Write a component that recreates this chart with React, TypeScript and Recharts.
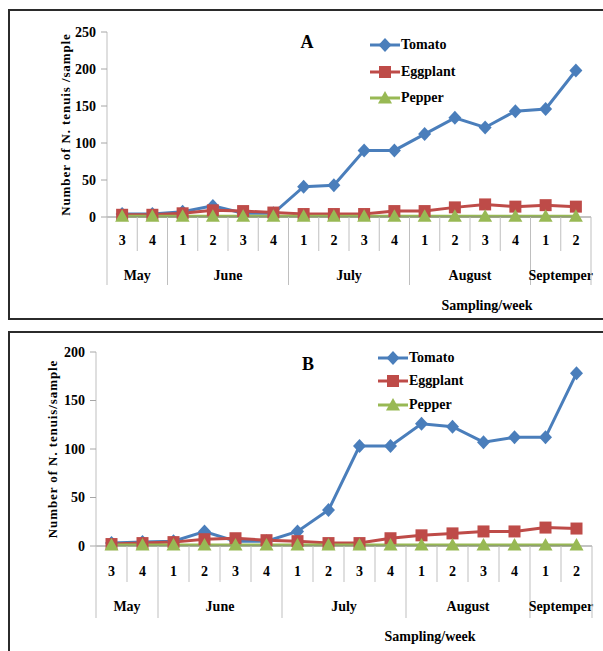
import { LineChart, Line, XAxis, YAxis, Legend, Label } from 'recharts'

const months = ['May', 'June', 'July', 'August', 'Septemper']
const weeksInMonth = [2, 4, 4, 4, 2]
const weeks = ['3', '4', '1', '2', '3', '4', '1', '2', '3', '4', '1', '2', '3', '4', '1', '2']

const tomatoA = [4, 4, 7, 15, 5, 5, 41, 43, 90, 90, 112, 134, 121, 143, 146, 198]
const eggplantA = [3, 3, 5, 9, 8, 6, 4, 4, 4, 8, 8, 13, 17, 14, 16, 14]
const pepperA = [1, 1, 1, 1, 1, 1, 1, 1, 1, 1, 1, 1, 1, 1, 1, 1]

const tomatoB = [3, 4, 5, 15, 5, 5, 15, 37, 103, 103, 126, 123, 107, 112, 112, 178]
const eggplantB = [2, 3, 4, 7, 8, 6, 5, 3, 3, 8, 11, 13, 15, 15, 19, 18]
const pepperB = [1, 1, 1, 1, 1, 1, 1, 1, 1, 1, 1, 1, 1, 1, 1, 1]

const yTicksA = [0, 50, 100, 150, 200, 250]
const yTicksB = [0, 50, 100, 150, 200]

const FONT = "'Liberation Serif', 'Times New Roman', serif"
const BLUE = '#4a7ebb'
const RED = '#be4b48'
const GREEN = '#98b954'
const GRID = '#bfbfbf'

// series order as drawn (and as listed in the legend)
const seriesOrder = ['tomato', 'eggplant', 'pepper']

// which month each week belongs to, and where each month starts
const monthOf: number[] = []
const monthStart: number[] = []
weeksInMonth.forEach((n, m) => {
  monthStart.push(monthOf.length)
  for (let k = 0; k < n; k++) monthOf.push(m)
})

function makeRows(tomato: number[], eggplant: number[], pepper: number[]) {
  return weeks.map((w, i) => ({
    slot: `${months[monthOf[i]]} ${w}`,
    tomato: tomato[i],
    eggplant: eggplant[i],
    pepper: pepper[i],
  }))
}

const shapes: Record<string, string> = {
  tomato: 'diamond',
  eggplant: 'square',
  pepper: 'triangle',
}

function Marker({ cx, cy, shape, color }: { cx: number; cy: number; shape: string; color: string }) {
  if (shape === 'diamond') {
    return <path d={`M${cx},${cy - 7}L${cx + 6.5},${cy}L${cx},${cy + 7}L${cx - 6.5},${cy}Z`} fill={color} />
  }
  if (shape === 'square') {
    return <rect x={cx - 6} y={cy - 6} width={12} height={12} fill={color} />
  }
  return <path d={`M${cx},${cy - 7}L${cx + 7},${cy + 5.5}L${cx - 7},${cy + 5.5}Z`} fill={color} />
}

const dotFor = (shape: string, color: string) => (p: any) => (
  <Marker key={`${shape}-${p.index}`} cx={p.cx} cy={p.cy} shape={shape} color={color} />
)

type Geo = { weekBase: number; weekDiv: number; monthBase: number; monthDiv: number }

function SlotTick(props: any) {
  const { x, y, index, band, geo } = props as { x: number; y: number; index: number; band: number; geo: Geo }
  const m = monthOf[index]
  const first = monthStart[m] === index
  const left = x - band / 2
  const right = x + band / 2
  const txt = { fontFamily: FONT, fontWeight: 'bold' as const, fontSize: 14, fill: '#000' }
  return (
    <g>
      <line x1={left} x2={left} y1={y} y2={y + (first ? geo.monthDiv : geo.weekDiv)} stroke={GRID} />
      {index === weeks.length - 1 && (
        <line x1={right} x2={right} y1={y} y2={y + geo.monthDiv} stroke={GRID} />
      )}
      <text x={x} y={y + geo.weekBase} textAnchor="middle" {...txt}>
        {weeks[index]}
      </text>
      {first && (
        <text x={left + (weeksInMonth[m] * band) / 2} y={y + geo.monthBase} textAnchor="middle" {...txt}>
          {months[m]}
        </text>
      )}
    </g>
  )
}

function renderLegend(rowH: number) {
  return (props: any) => {
    const items = [...props.payload].sort(
      (a: any, b: any) => seriesOrder.indexOf(a.dataKey) - seriesOrder.indexOf(b.dataKey),
    )
    return (
      <div style={{ fontFamily: FONT, fontWeight: 'bold', fontSize: 14, color: '#000' }}>
        {items.map((entry: any) => (
          <div key={entry.value} style={{ display: 'flex', alignItems: 'center', height: rowH }}>
            <svg width={30} height={16} style={{ marginRight: 1 }}>
              <line x1={0} x2={30} y1={8} y2={8} stroke={entry.color} strokeWidth={3} />
              <Marker cx={15} cy={8} shape={shapes[entry.dataKey]} color={entry.color} />
            </svg>
            <span>{entry.value}</span>
          </div>
        ))}
      </div>
    )
  }
}

type PanelProps = {
  top: number
  height: number
  margin: { top: number; right: number; bottom: number; left: number }
  rows: ReturnType<typeof makeRows>
  yMax: number
  yTicks: number[]
  yLabel: string
  yLabelOffset: number
  xLabelDx: number
  xLabelOffset: number
  geo: Geo
  legendPos: { left: number; top: number; rowH: number }
  title: string
  titlePos: { x: number; y: number }
}

const W = 603
const Y_AXIS_W = 50

function Panel(p: PanelProps) {
  const band = (W - p.margin.left - p.margin.right - Y_AXIS_W) / weeks.length
  return (
    <div style={{ position: 'absolute', left: 0, top: p.top, width: W, height: p.height }}>
      <LineChart width={W} height={p.height} data={p.rows} margin={p.margin}>
        <XAxis
          dataKey="slot"
          scale="band"
          interval={0}
          height={100}
          tickLine={false}
          tickSize={0}
          tickMargin={0}
          axisLine={{ stroke: '#868686' }}
          tick={(t: any) => <SlotTick {...t} band={band} geo={p.geo} />}
        >
          <Label
            value="Sampling/week"
            position="insideBottom"
            offset={p.xLabelOffset}
            dx={p.xLabelDx}
            fill="#000"
            fontSize={14}
            fontWeight="bold"
            fontFamily={FONT}
          />
        </XAxis>
        <YAxis
          width={Y_AXIS_W}
          domain={[0, p.yMax]}
          ticks={p.yTicks}
          interval={0}
          tickSize={6}
          tickMargin={5}
          axisLine={{ stroke: GRID }}
          tickLine={{ stroke: '#a6a6a6' }}
          tick={{ fill: '#000', fontSize: 14, fontWeight: 'bold', fontFamily: FONT }}
        >
          <Label
            value={p.yLabel}
            angle={-90}
            position="insideLeft"
            offset={p.yLabelOffset}
            fill="#000"
            fontSize={13}
            fontWeight="bold"
            fontFamily={FONT}
            style={{ textAnchor: 'middle', letterSpacing: 0.9 }}
          />
        </YAxis>
        <Legend
          layout="vertical"
          align="center"
          verticalAlign="middle"
          wrapperStyle={{ left: p.legendPos.left, top: p.legendPos.top, width: 'auto', height: 'auto' }}
          content={renderLegend(p.legendPos.rowH)}
        />
        <Line
          dataKey="tomato"
          name="Tomato"
          type="linear"
          stroke={BLUE}
          strokeWidth={3}
          dot={dotFor('diamond', BLUE)}
          activeDot={false}
          isAnimationActive={false}
        />
        <Line
          dataKey="eggplant"
          name="Eggplant"
          type="linear"
          stroke={RED}
          strokeWidth={3}
          dot={dotFor('square', RED)}
          activeDot={false}
          isAnimationActive={false}
        />
        <Line
          dataKey="pepper"
          name="Pepper"
          type="linear"
          stroke={GREEN}
          strokeWidth={3}
          dot={dotFor('triangle', GREEN)}
          activeDot={false}
          isAnimationActive={false}
        />
      </LineChart>
      <div
        style={{
          position: 'absolute',
          left: p.titlePos.x,
          top: p.titlePos.y,
          transform: 'translate(-50%, -50%)',
          fontFamily: FONT,
          fontWeight: 'bold',
          fontSize: 18,
          lineHeight: 1,
        }}
      >
        {p.title}
      </div>
    </div>
  )
}

const boxStyle = {
  position: 'absolute' as const,
  left: 8,
  width: 640,
  border: '2px solid #2b2b2b',
  boxSizing: 'border-box' as const,
}

export default function App() {
  return (
    <div
      style={{
        position: 'absolute',
        left: 0,
        top: 0,
        width: W,
        height: 651,
        overflow: 'hidden',
        background: '#fff',
      }}
    >
      <div style={{ ...boxStyle, top: 9, height: 311 }} />
      <div style={{ ...boxStyle, top: 331, height: 400 }} />
      <Panel
        top={0}
        height={320}
        margin={{ top: 32, right: 12, bottom: 3, left: 57 }}
        rows={makeRows(tomatoA, eggplantA, pepperA)}
        yMax={250}
        yTicks={yTicksA}
        yLabel="Number of N. tenuis /sample"
        yLabelOffset={8}
        xLabelDx={138}
        xLabelOffset={7}
        geo={{ weekBase: 28, weekDiv: 34, monthBase: 63, monthDiv: 68 }}
        legendPos={{ left: 370, top: 32, rowH: 26.5 }}
        title="A"
        titlePos={{ x: 307, y: 42 }}
      />
      <Panel
        top={325}
        height={326}
        margin={{ top: 27, right: 11, bottom: 5, left: 46 }}
        rows={makeRows(tomatoB, eggplantB, pepperB)}
        yMax={200}
        yTicks={yTicksB}
        yLabel="Number of N. tenuis/sample"
        yLabelOffset={6}
        xLabelDx={86}
        xLabelOffset={5}
        geo={{ weekBase: 30, weekDiv: 36, monthBase: 65, monthDiv: 72 }}
        legendPos={{ left: 378, top: 21, rowH: 23.5 }}
        title="B"
        titlePos={{ x: 308, y: 39 }}
      />
    </div>
  )
}
